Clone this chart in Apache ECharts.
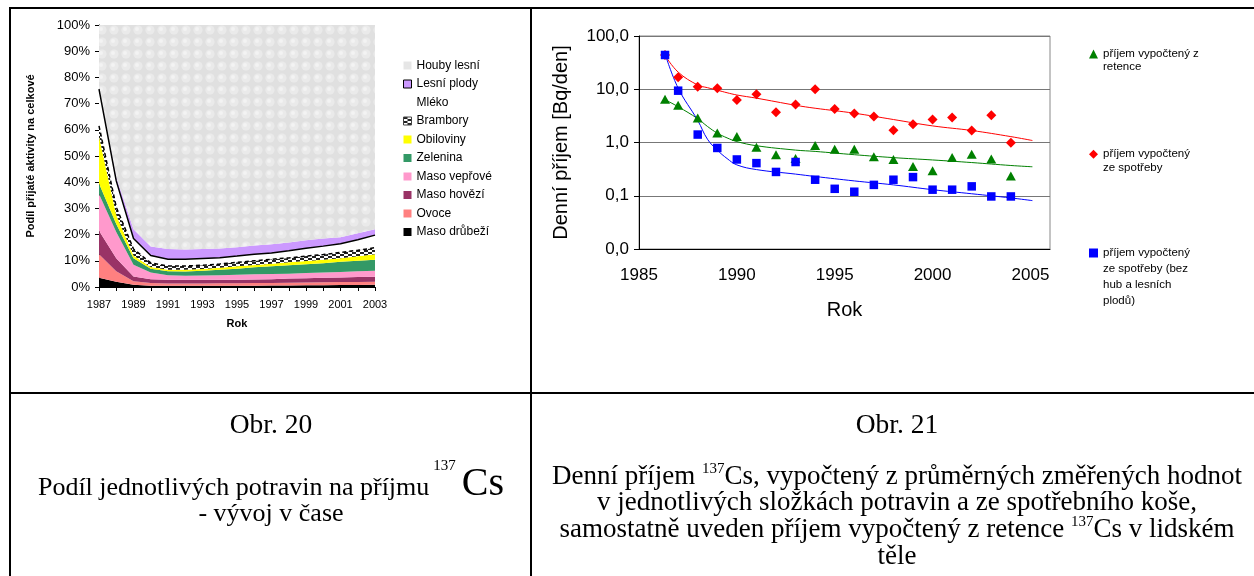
<!DOCTYPE html>
<html><head><meta charset="utf-8">
<script src="https://cdn.jsdelivr.net/npm/echarts@6/dist/echarts.min.js"></script>
<style>
html,body{margin:0;padding:0;background:#fff;width:1254px;height:576px;overflow:hidden;}
#chart{position:absolute;left:0;top:0;width:1254px;height:576px;}
.ln{position:absolute;background:#000;}
.cap{position:absolute;font-family:"Liberation Serif","Times New Roman",serif;font-size:26px;line-height:26.5px;text-align:center;color:#000;white-space:nowrap;}
.sup{font-size:15px;line-height:0;position:relative;top:-11px;}
.big{font-size:40px;line-height:0;}
.sup2{font-size:15px;line-height:0;position:relative;top:-25px;margin-left:4px;margin-right:6px;}
</style></head>
<body>
<div id="chart"></div>
<div class="ln" style="left:9px;top:7px;width:2px;height:569px"></div>
<div class="ln" style="left:9px;top:7px;width:1245px;height:2px"></div>
<div class="ln" style="left:530px;top:7px;width:2px;height:569px"></div>
<div class="ln" style="left:9px;top:392px;width:1245px;height:2px"></div>
<div class="cap" style="left:11px;width:520px;top:411px;font-size:27.5px">Obr. 20</div>
<div class="cap" style="left:11px;width:520px;top:473.6px">Podíl jednotlivých potravin na příjmu<span class="sup2">137</span><span class="big">Cs</span></div>
<div class="cap" style="left:11px;width:520px;top:499.6px">- vývoj v čase</div>
<div class="cap" style="left:532px;width:730px;top:411px;font-size:27.5px">Obr. 21</div>
<div class="cap" style="left:532px;width:730px;top:461.6px;line-height:26.7px;font-size:27px">Denní příjem <span class="sup">137</span>Cs, vypočtený z průměrných změřených hodnot<br>v jednotlivých složkách potravin a ze spotřebního koše,<br>samostatně uveden příjem vypočtený z retence <span class="sup">137</span>Cs v lidském<br>těle</div>
<script>
// ---------- Obr. 20 data (share of intake, %) ----------
const years = ['1987','1988','1989','1990','1991','1992','1993','1994','1995','1996','1997','1998','1999','2000','2001','2002','2003'];
const masoDrubezi = [3.5, 2, 0.9, 0.5, 0.5, 0.5, 0.5, 0.5, 0.5, 0.5, 0.6, 0.6, 0.7, 0.7, 0.8, 0.8, 0.9];
const ovoce       = [9, 4, 1.3, 1.0, 0.8, 0.8, 0.8, 0.9, 0.9, 1.0, 0.9, 1.0, 1.0, 1.1, 1.1, 1.1, 1.1];
const masoHovezi  = [9, 5, 1.8, 1.5, 1.5, 1.5, 1.5, 1.4, 1.4, 1.4, 1.5, 1.6, 1.6, 1.7, 1.7, 1.9, 1.9];
const masoVeprove = [14, 10, 4.5, 2.5, 1.7, 1.5, 1.6, 1.7, 1.9, 2.0, 2.0, 1.9, 2.0, 2.0, 2.1, 2.2, 2.3];
const zelenina    = [4, 3, 2.5, 1.5, 1.5, 1.6, 1.8, 2.1, 2.3, 2.6, 2.9, 3.2, 3.4, 3.6, 3.9, 4.0, 4.2];
const obiloviny   = [18, 3.5, 1, 0.6, 0.6, 0.7, 0.7, 0.7, 0.9, 0.9, 1.0, 1.1, 1.2, 1.3, 1.4, 1.7, 2.1];
const brambory    = [4, 3, 2.5, 1.6, 1.4, 1.4, 1.4, 1.5, 1.5, 1.6, 1.7, 1.7, 1.9, 2.0, 2.2, 2.3, 2.5];
const mleko       = [14, 10, 4, 2.8, 2.6, 2.6, 2.6, 2.4, 2.4, 2.5, 2.4, 2.7, 3.0, 3.2, 3.3, 4.0, 4.8];
const lesniPlody  = [0.5, 1.5, 3.5, 3.5, 3.9, 3.7, 3.6, 3.5, 3.4, 3.3, 3.3, 3.2, 3.0, 2.9, 2.5, 2.5, 2.2];
const houbyLesni  = [24, 58, 78, 84.5, 85.5, 85.7, 85.5, 85.3, 84.8, 84.2, 83.7, 83, 82.2, 81.5, 81, 79.5, 78];
const pctTicks = [0,10,20,30,40,50,60,70,80,90,100];

// ---------- Obr. 21 data (Bq/den) ----------
const pointYears   = [1986.33, 1987, 1988, 1989, 1990, 1991, 1992, 1993, 1994, 1995, 1996, 1997, 1998, 1999, 2000, 2001, 2002, 2003, 2004];
const zRetence     = [6.5, 5.0, 2.9, 1.5, 1.3, 0.81, 0.59, 0.5, 0.88, 0.75, 0.75, 0.54, 0.48, 0.355, 0.295, 0.525, 0.6, 0.49, 0.235];
const zeSpotreby   = [44, 16.8, 11.2, 10.4, 6.3, 8.05, 3.7, 5.16, 10, 4.28, 3.5, 3.07, 1.70, 2.21, 2.7, 2.94, 1.68, 3.26, 0.99];
const bezHub       = [44, 9.4, 1.41, 0.79, 0.48, 0.41, 0.28, 0.43, 0.20, 0.135, 0.119, 0.16, 0.20, 0.224, 0.13, 0.13, 0.15, 0.097, 0.097];
const trendYears   = [1986.35, 1987, 1988, 1988.5, 1989, 1989.5, 1990, 1991, 1993, 1994, 1996, 1998, 2000, 2002, 2004, 2005.1];
const trendSpotreby= [42, 21, 12, 10.7, 9.6, 8.6, 7.8, 6.8, 5.0, 4.4, 3.55, 2.7, 2.05, 1.68, 1.29, 1.09];
const trendRetence = [6.3, 4.7, 2.8, 2.0, 1.5, 1.22, 1.04, 0.87, 0.72, 0.68, 0.59, 0.52, 0.47, 0.42, 0.37, 0.35];
const trendBezHub  = [44, 10.5, 2.6, 1.15, 0.72, 0.5, 0.38, 0.31, 0.255, 0.23, 0.19, 0.16, 0.13, 0.109, 0.091, 0.081];
const logTicks = [0.01, 0.1, 1, 10, 100];
const yearTicks = [1985, 1990, 1995, 2000, 2005];

function pair(xs, ys){ return xs.map((x,i)=>[x, ys[i]]); }

// patterns
function mkHouby(){
  const c = document.createElement('canvas'); c.width = 12; c.height = 12;
  const g = c.getContext('2d');
  g.fillStyle = '#e0e0e0'; g.fillRect(0,0,12,12);
  g.fillStyle = '#eaeaea'; g.beginPath(); g.arc(6,6,4.6,0,Math.PI*2); g.fill();
  g.fillStyle = '#f3f3f3'; g.beginPath(); g.arc(5,5,2,0,Math.PI*2); g.fill();
  return c;
}
function mkBrambory(){
  const c = document.createElement('canvas'); c.width = 8; c.height = 4;
  const g = c.getContext('2d');
  g.fillStyle = '#ffffff'; g.fillRect(0,0,8,4);
  g.fillStyle = '#222'; g.fillRect(0,0,4,2); g.fillRect(4,2,4,2);
  return c;
}
const houbyPat = {image: mkHouby(), repeat: 'repeat'};
const bramboryPat = {image: mkBrambory(), repeat: 'repeat'};

const FONT = 'Liberation Sans, Arial, sans-serif';

function area(name, data, color, line){
  return {
    name, type: 'line', stack: 'total', data, xAxisIndex: 0, yAxisIndex: 0,
    symbol: 'none', showSymbol: false, silent: true,
    itemStyle: {color: typeof color === 'string' ? color : '#888'},
    lineStyle: line || {width: 0, opacity: 0},
    areaStyle: {color, opacity: 1},
    z: line ? 4 : 2
  };
}

const leftLegendItems = [
  {name: 'Houby lesní', itemStyle: {color: '#e6e6e6'}},
  {name: 'Lesní plody', itemStyle: {color: '#CC99FF', borderColor: '#000', borderWidth: 1}},
  {name: 'Mléko', itemStyle: {color: '#ffffff'}},
  {name: 'Brambory', itemStyle: {color: bramboryPat, borderColor: '#444', borderWidth: 1}},
  {name: 'Obiloviny', itemStyle: {color: '#FFFF00'}},
  {name: 'Zelenina', itemStyle: {color: '#339966'}},
  {name: 'Maso vepřové', itemStyle: {color: '#FF99CC'}},
  {name: 'Maso hovězí', itemStyle: {color: '#993366'}},
  {name: 'Ovoce', itemStyle: {color: '#FF8080'}},
  {name: 'Maso drůbeží', itemStyle: {color: '#000000'}}
];

const chart = echarts.init(document.getElementById('chart'), null, {renderer: 'canvas'});
const option = {
  animation: false,
  backgroundColor: 'transparent',
  textStyle: {fontFamily: FONT, color: '#000'},
  grid: [
    {left: 99, top: 25, width: 276, height: 262, outerBoundsMode: 'none', containLabel: false},
    {left: 639, top: 36, width: 411, height: 213, show: true, borderColor: '#888', borderWidth: 1, backgroundColor: 'transparent', outerBoundsMode: 'none', containLabel: false}
  ],
  xAxis: [
    {
      gridIndex: 0, type: 'category', data: years, boundaryGap: false,
      axisLine: {lineStyle: {color: '#000', width: 1}},
      axisTick: {show: true, interval: 0, length: 4, lineStyle: {color: '#000'}},
      axisLabel: {interval: 1, fontSize: 11, margin: 12, color: '#000', fontFamily: FONT},
      splitLine: {show: false},
      name: 'Rok', nameLocation: 'middle', nameGap: 31,
      nameTextStyle: {fontWeight: 'bold', fontSize: 11, color: '#000', fontFamily: FONT}
    },
    {
      gridIndex: 1, type: 'value', min: yearTicks[0], max: 2006, interval: 5,
      axisLine: {lineStyle: {color: '#000', width: 1}},
      axisTick: {show: false},
      axisLabel: {showMaxLabel: false, fontSize: 17, margin: 18, color: '#000', fontFamily: FONT,
        formatter: v => (yearTicks.indexOf(v) >= 0 ? String(v) : '')},
      splitLine: {show: false},
      name: 'Rok', nameLocation: 'middle', nameGap: 51,
      nameTextStyle: {fontSize: 20, color: '#000', fontFamily: FONT}
    }
  ],
  yAxis: [
    {
      gridIndex: 0, type: 'value', min: pctTicks[0], max: pctTicks[pctTicks.length-1], interval: 10,
      axisLine: {show: true, lineStyle: {color: '#000', width: 1}},
      axisTick: {show: true, length: 4, lineStyle: {color: '#000'}},
      axisLabel: {formatter: '{value}%', fontSize: 13, margin: 9, color: '#000', fontFamily: FONT},
      splitLine: {show: false},
      name: 'Podíl přijaté aktivity na celkové', nameLocation: 'middle', nameGap: 63, nameRotate: 90,
      nameTextStyle: {fontWeight: 'bold', fontSize: 11, color: '#000', fontFamily: FONT}
    },
    {
      gridIndex: 1, type: 'log', logBase: 10, min: logTicks[0], max: logTicks[logTicks.length-1],
      axisLine: {show: true, lineStyle: {color: '#000', width: 1}},
      axisTick: {show: true, length: 5, lineStyle: {color: '#000'}},
      axisLabel: {fontSize: 17, margin: 10, color: '#000', fontFamily: FONT,
        formatter: v => Number(v).toFixed(1).replace('.', ',')},
      splitLine: {show: true, lineStyle: {color: '#777', width: 1}},
      name: 'Denní příjem [Bq/den]', nameLocation: 'middle', nameGap: 68, nameRotate: 90,
      nameTextStyle: {fontSize: 20, color: '#000', fontFamily: FONT}
    }
  ],
  legend: [
    {
      orient: 'vertical', left: 403, top: 58.5, padding: 0, itemGap: 4.5,
      itemWidth: 8, itemHeight: 8, icon: 'rect', selectedMode: false,
      textStyle: {fontSize: 12, lineHeight: 14, color: '#000', fontFamily: FONT},
      data: leftLegendItems
    },
    {
      left: 1089, top: 46.5, padding: 0, itemWidth: 9, itemHeight: 9, selectedMode: false,
      textStyle: {fontSize: 11.5, lineHeight: 15, color: '#000', fontFamily: FONT},
      formatter: () => 'příjem vypočtený z',
      data: [{name: 'příjem vypočtený z retence', icon: 'triangle'}]
    },
    {
      left: 1089, top: 146.8, padding: 0, itemWidth: 9, itemHeight: 9, selectedMode: false,
      textStyle: {fontSize: 11.5, lineHeight: 15, color: '#000', fontFamily: FONT},
      formatter: () => 'příjem vypočtený',
      data: [{name: 'příjem vypočtený ze spotřeby', icon: 'diamond'}]
    },
    {
      left: 1089, top: 245.5, padding: 0, itemWidth: 9, itemHeight: 9, selectedMode: false,
      textStyle: {fontSize: 11.5, lineHeight: 15, color: '#000', fontFamily: FONT},
      formatter: () => 'příjem vypočtený',
      data: [{name: 'příjem vypočtený ze spotřeby (bez hub a lesních plodů)', icon: 'rect'}]
    }
  ],
  graphic: [
    {type: 'text', left: 1103, top: 61, style: {text: 'retence', font: '11.5px ' + FONT, fill: '#000'}},
    {type: 'text', left: 1103, top: 161.5, style: {text: 'ze spotřeby', font: '11.5px ' + FONT, fill: '#000'}},
    {type: 'text', left: 1103, top: 261, style: {text: 'ze spotřeby (bez\nhub a lesních\nplodů)', font: '11.5px ' + FONT, fill: '#000', lineHeight: 15.8}}
  ],
  series: [
    area('Maso drůbeží', masoDrubezi, '#000000'),
    area('Ovoce', ovoce, '#FF8080'),
    area('Maso hovězí', masoHovezi, '#993366'),
    area('Maso vepřové', masoVeprove, '#FF99CC'),
    area('Zelenina', zelenina, '#339966'),
    area('Obiloviny', obiloviny, '#FFFF00'),
    area('Brambory', brambory, bramboryPat, {color: '#000', width: 1.5, type: [4, 3]}),
    area('Mléko', mleko, '#FFFFFF', {color: '#000', width: 1.5}),
    area('Lesní plody', lesniPlody, '#CC99FF'),
    area('Houby lesní', houbyLesni, houbyPat),

    {name: 'trend retence', type: 'line', xAxisIndex: 1, yAxisIndex: 1, data: pair(trendYears, trendRetence),
     symbol: 'none', smooth: 0.4, lineStyle: {color: '#008000', width: 1}, z: 3, silent: true},
    {name: 'trend spotreby', type: 'line', xAxisIndex: 1, yAxisIndex: 1, data: pair(trendYears, trendSpotreby),
     symbol: 'none', smooth: 0.4, lineStyle: {color: '#FF0000', width: 1}, z: 3, silent: true},
    {name: 'trend bez hub', type: 'line', xAxisIndex: 1, yAxisIndex: 1, data: pair(trendYears, trendBezHub),
     symbol: 'none', smooth: 0.4, lineStyle: {color: '#0000FF', width: 1}, z: 3, silent: true},

    {name: 'příjem vypočtený z retence', type: 'scatter', xAxisIndex: 1, yAxisIndex: 1,
     data: pair(pointYears, zRetence), symbol: 'triangle', symbolSize: [10, 9], itemStyle: {color: '#008000', opacity: 1}, z: 4},
    {name: 'příjem vypočtený ze spotřeby', type: 'scatter', xAxisIndex: 1, yAxisIndex: 1,
     data: pair(pointYears, zeSpotreby), symbol: 'diamond', symbolSize: 10, itemStyle: {color: '#FF0000', opacity: 1}, z: 5},
    {name: 'příjem vypočtený ze spotřeby (bez hub a lesních plodů)', type: 'scatter', xAxisIndex: 1, yAxisIndex: 1,
     data: pair(pointYears, bezHub), symbol: 'rect', symbolSize: 8.5, itemStyle: {color: '#0000FF', opacity: 1}, z: 6}
  ]
};
chart.setOption(option);
</script>
</body></html>
